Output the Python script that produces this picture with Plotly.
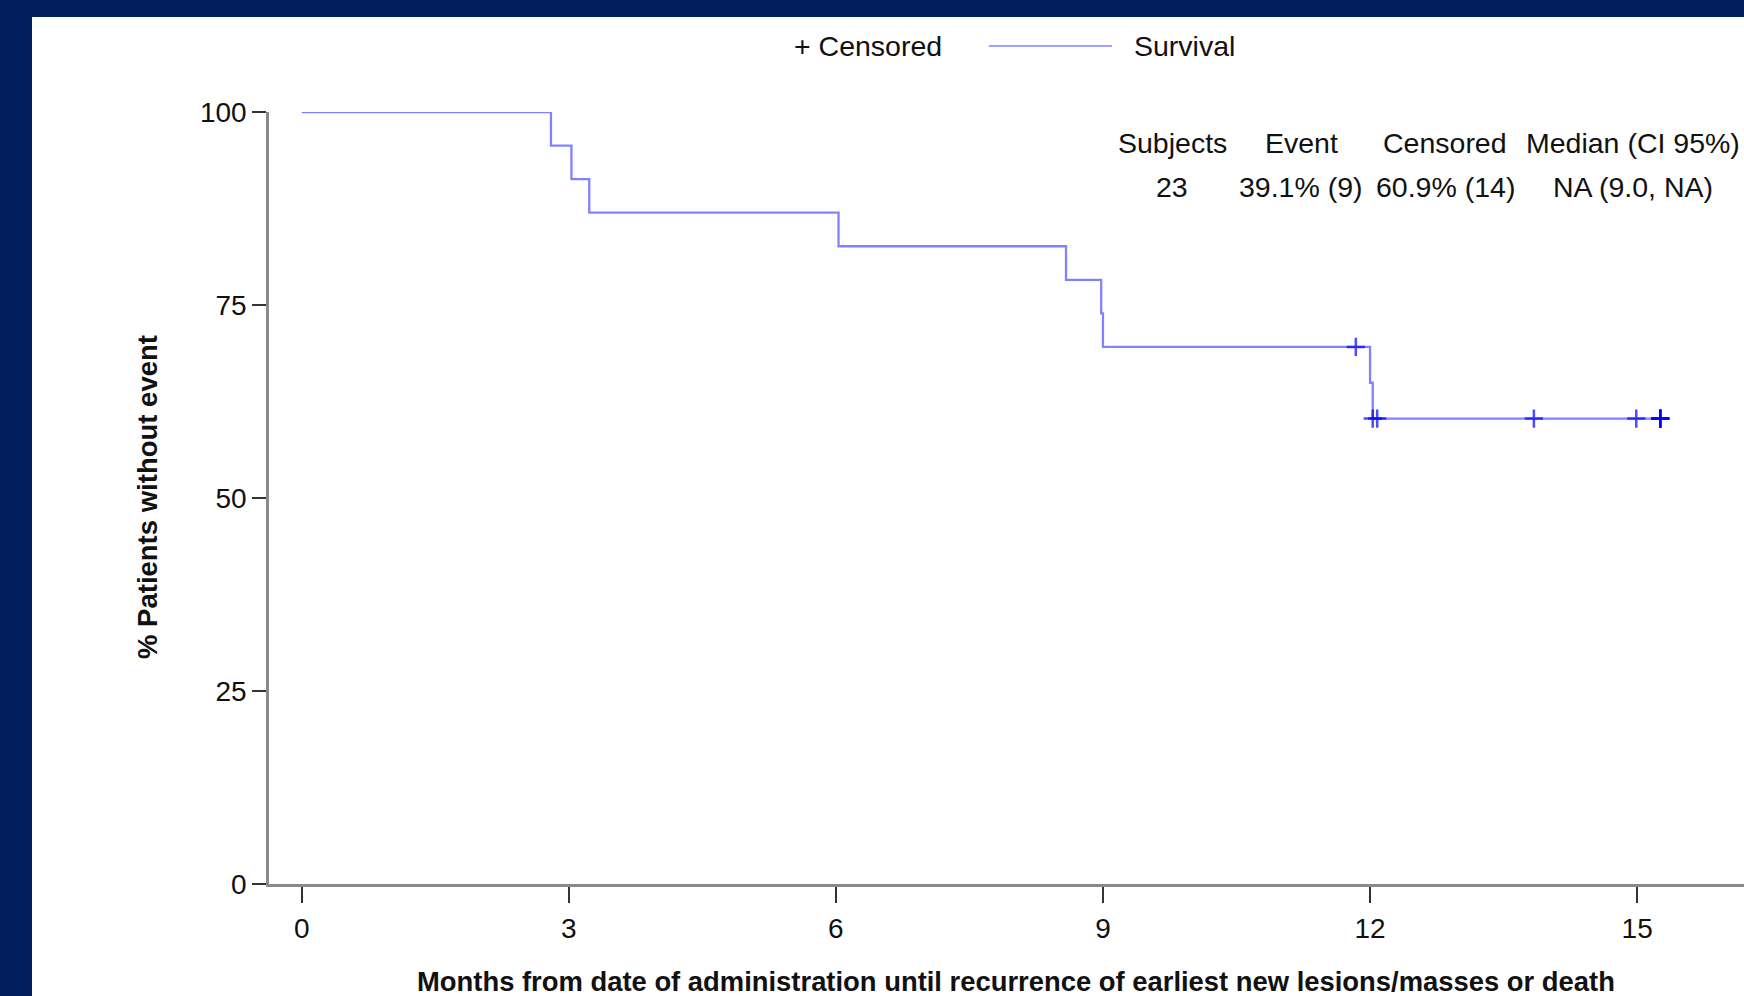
import plotly.graph_objects as go

# ---- data ----
step_times = [0, 2.80, 3.03, 3.23, 6.03, 8.585, 8.98, 9.00, 12.00, 12.03, 15.26]
step_surv = [100, 95.65, 91.30, 86.96, 82.61, 78.26, 73.91, 69.57, 64.93, 60.29, 60.29]

cens_times = [11.84, 12.03, 12.08, 13.84, 14.99, 15.26, 15.26, 15.26, 15.26]
cens_surv = [69.57, 60.29, 60.29, 60.29, 60.29, 60.29, 60.29, 60.29, 60.29]

x_ticks = [0, 3, 6, 9, 12, 15]
y_ticks = [0, 25, 50, 75, 100]

table_header = ["Subjects", "Event", "Censored", "Median (CI 95%)"]
table_row = ["23", "39.1% (9)", "60.9% (14)", "NA (9.0, NA)"]

FONT = "Liberation Sans, Arial, sans-serif"
W, H = 1744, 996
L, R, T, B = 269, 0, 112, 112
PW, PH = W - L - R, H - T - B


def px(xpix):
    return (xpix - L) / PW


def py(ypix):
    return (H - B - ypix) / PH


fig = go.Figure()
fig.add_trace(go.Scatter(
    x=step_times, y=step_surv, mode="lines", line_shape="hv",
    line=dict(color="#8282ff", width=2.3), showlegend=False, hoverinfo="skip"))
fig.add_trace(go.Scatter(
    x=cens_times, y=cens_surv, mode="markers",
    marker=dict(symbol="cross-thin", size=13,
                line=dict(color="rgba(0,0,255,0.7)", width=2.5)),
    showlegend=False, hoverinfo="skip"))

TXT = dict(family=FONT, size=28.5, color="#111")
annotations = []
# legend
annotations.append(dict(text="+ Censored", x=px(868), y=py(46), xref="paper", yref="paper",
                        showarrow=False, xanchor="center", yanchor="middle", font=TXT))
annotations.append(dict(text="Survival", x=px(1132), y=py(46), xref="paper", yref="paper",
                        showarrow=False, xanchor="left", yanchor="middle", font=TXT))
# table
col_x = [1172, 1301, 1445, 1633]
for cx, h, v in zip(col_x, table_header, table_row):
    annotations.append(dict(text=h, x=px(cx), y=py(143), xref="paper", yref="paper",
                            showarrow=False, xanchor="center", yanchor="middle", font=TXT))
    annotations.append(dict(text=v, x=px(cx), y=py(187), xref="paper", yref="paper",
                            showarrow=False, xanchor="center", yanchor="middle", font=TXT))
# axis titles
annotations.append(dict(text="<b>Months from date of administration until recurrence of earliest new lesions/masses or death</b>",
                        x=px(1016), y=py(981), xref="paper", yref="paper",
                        showarrow=False, xanchor="center", yanchor="middle",
                        font=dict(family=FONT, size=27.4, color="#111")))
annotations.append(dict(text="<b>% Patients without event</b>",
                        x=px(147), y=py(497), xref="paper", yref="paper", textangle=-90,
                        showarrow=False, xanchor="center", yanchor="middle",
                        font=dict(family=FONT, size=27.5, color="#111")))

shapes = [
    dict(type="rect", xref="paper", yref="paper", x0=px(32), x1=1.05, y0=-0.3, y1=py(17),
         fillcolor="white", line=dict(width=0), layer="below"),
    dict(type="line", xref="paper", yref="paper", x0=px(989), x1=px(1112), y0=py(46), y1=py(46),
         line=dict(color="#a0a0ff", width=2)),
]

fig.update_layout(
    width=W, height=H, autosize=False,
    margin=dict(l=L, r=R, t=T, b=B, pad=0),
    paper_bgcolor="#001f5c", plot_bgcolor="white",
    annotations=annotations, shapes=shapes,
    font=dict(family=FONT, size=28, color="#111"),
)
fig.update_xaxes(range=[-0.367, 16.20], tickvals=x_ticks, ticks="outside", ticklen=16,
                 tickwidth=1.5, tickcolor="#333", showline=True, linecolor="#8a8a8a", linewidth=2.5,
                 showgrid=False, zeroline=False, tickfont=dict(family=FONT, size=28, color="#111"),
                 ticklabelstandoff=2)
fig.update_yaxes(range=[0, 100], tickvals=y_ticks, ticks="outside", ticklen=14,
                 tickwidth=1.5, tickcolor="#333", showline=True, linecolor="#8a8a8a", linewidth=2.5,
                 showgrid=False, zeroline=False, tickfont=dict(family=FONT, size=28, color="#111"),
                 ticklabelstandoff=0)

fig.write_html("out.html", config={"displayModeBar": False},
               post_script="document.body.style.margin='0';document.body.style.overflow='hidden';")
